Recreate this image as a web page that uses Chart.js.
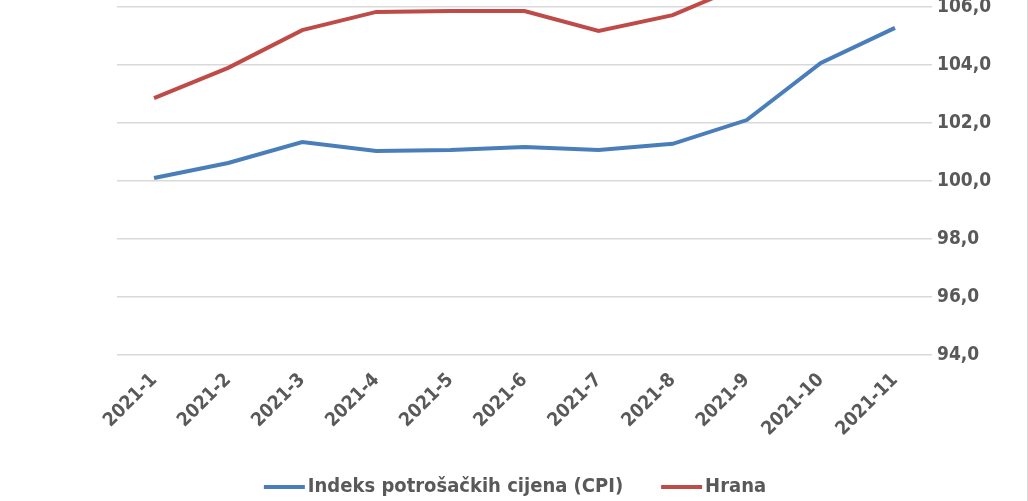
<!DOCTYPE html>
<html>
<head>
<meta charset="utf-8">
<script src="https://cdn.jsdelivr.net/npm/chart.js@4"></script>
<style>
  html, body { margin: 0; padding: 0; background: #fff; }
  #wrap { position: relative; width: 1027px; height: 501px; border-right: 1px solid #d9d9d9; }
</style>
</head>
<body>
<div id="wrap"><canvas id="cpiChart"></canvas></div>
<script>
// mjeseci i indeksi
const months = ['2021-1', '2021-2', '2021-3', '2021-4', '2021-5', '2021-6', '2021-7', '2021-8', '2021-9', '2021-10', '2021-11'];
const cpiValues = [100.1, 100.62, 101.34, 101.03, 101.07, 101.17, 101.07, 101.28, 102.1, 104.07, 105.28];
const foodValues = [102.86, 103.9, 105.2, 105.83, 105.86, 105.86, 105.17, 105.72, 106.8, 107.6, 108.3];
const yTicks = [94, 96, 98, 100, 102, 104, 106];

const FONT = "'Liberation Sans Narrow', 'DejaVu Sans Condensed', 'Liberation Sans', sans-serif";
const TEXT = '#595959';

// legenda ispod grafa, kao u Excelu (linija odmah uz tekst)
const bottomLegend = {
    id: 'bottomLegend',
    afterDraw(chart) {
        const c = chart.ctx;
        const boxW = 41, gap = 3, spacing = 38, y = 487;
        c.save();
        c.font = `bold 20px ${FONT}`;
        c.textBaseline = 'middle';
        const items = chart.data.datasets.map(ds => ({
            text: ds.label, color: ds.borderColor, w: c.measureText(ds.label).width
        }));
        const total = items.reduce((s, it) => s + boxW + gap + it.w, 0) + spacing * (items.length - 1);
        let x = 515 - total / 2;
        items.forEach(it => {
            c.fillStyle = it.color;
            c.fillRect(x, y - 2, boxW, 4);
            x += boxW + gap;
            c.fillStyle = TEXT;
            c.fillText(it.text, x, y);
            x += it.w + spacing;
        });
        c.restore();
    }
};

function initCpiChart() {
    const ctx = document.getElementById('cpiChart');
    if (!ctx) return;

    new Chart(ctx.getContext('2d'), {
        type: 'line',
        data: {
            labels: months,
            datasets: [{
                label: 'Indeks potrošačkih cijena (CPI)',
                data: cpiValues,
                borderColor: '#4a7ebb',
                backgroundColor: '#4a7ebb',
                borderWidth: 4,
                pointRadius: 0,
                tension: 0
            }, {
                label: 'Hrana',
                data: foodValues,
                borderColor: '#be4b48',
                backgroundColor: '#be4b48',
                borderWidth: 4,
                pointRadius: 0,
                tension: 0
            }]
        },
        plugins: [bottomLegend],
        options: {
            responsive: true,
            maintainAspectRatio: false,
            animation: false,
            layout: { padding: { left: 117, right: 0, top: 0, bottom: 32 } },
            plugins: {
                tooltip: { enabled: false },
                legend: { display: false }
            },
            scales: {
                x: {
                    offset: true,
                    grid: { display: false },
                    border: { display: false },
                    ticks: {
                        color: TEXT,
                        font: { family: FONT, size: 19, weight: 'bold' },
                        minRotation: 45,
                        maxRotation: 45,
                        padding: 6
                    },
                    afterFit: scale => { scale.height = 114; }
                },
                y: {
                    position: 'right',
                    min: 94,
                    max: 106.24,
                    afterBuildTicks: scale => {
                        scale.ticks = yTicks.map(v => ({ value: v }));
                    },
                    grid: { color: '#d9d9d9', lineWidth: 1.5, drawTicks: false },
                    border: { display: false },
                    ticks: {
                        color: TEXT,
                        font: { family: FONT, size: 19, weight: 'bold' },
                        padding: 5,
                        callback: value => value.toFixed(1).replace('.', ',')
                    },
                    afterFit: scale => {
                        scale.width = 95;
                        scale.paddingTop = 0;
                        scale.paddingBottom = 0;
                    }
                }
            }
        }
    });
}

initCpiChart();
</script>
</body>
</html>
